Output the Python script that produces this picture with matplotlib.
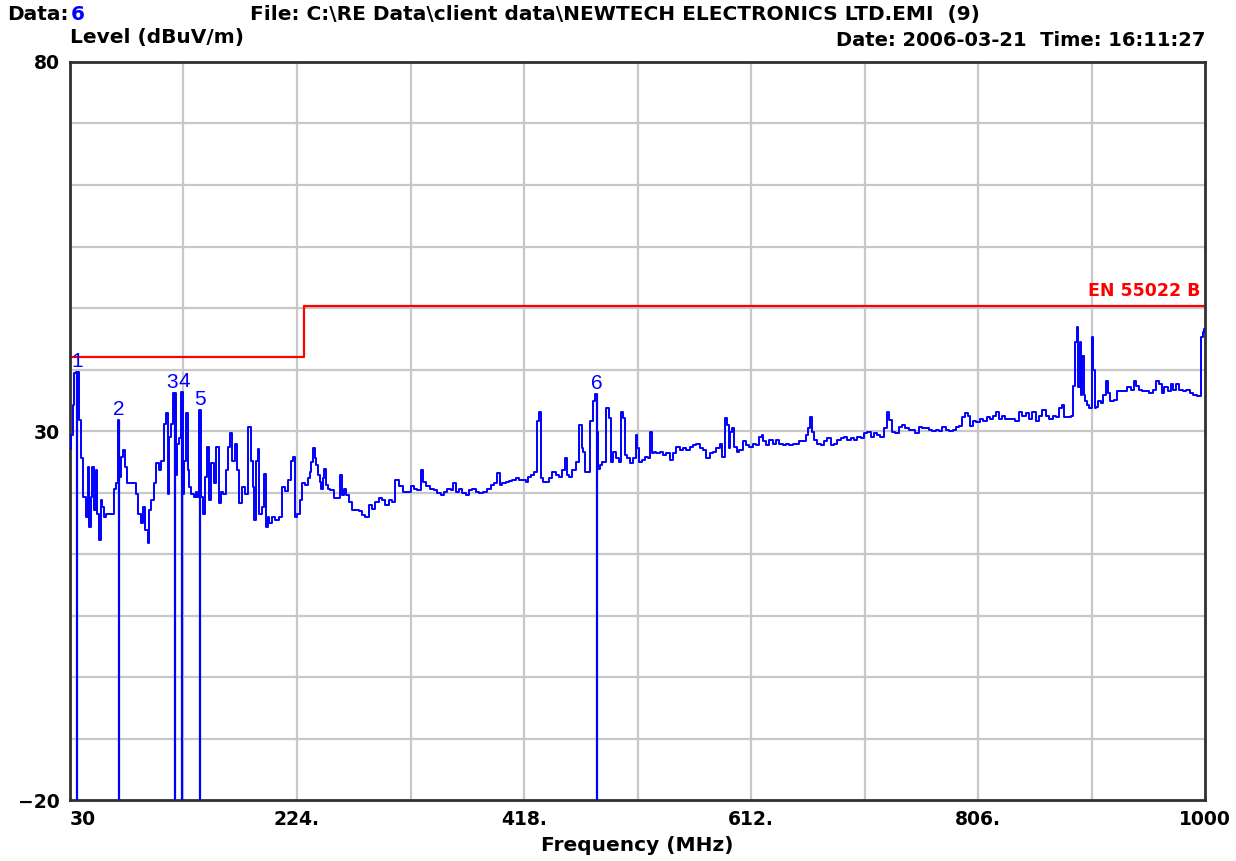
import numpy as np
import matplotlib
matplotlib.use("Agg")
import matplotlib.pyplot as plt

plt.rcParams['font.family'] = ['DejaVu Sans']

# limit line EN 55022 B (3 m)
limit_freq = [30, 230, 230, 1000]
limit_level = [40, 40, 47, 47]

freq = [
    30.0, 31.5, 33.0, 34.3, 36.0, 38.6, 40.0, 42.8, 44.3, 45.7,
    47.1, 48.5, 50.0, 51.4, 52.8, 54.2, 55.7, 57.1, 58.5, 60.0,
    61.4, 64.2, 67.1, 68.5, 70.0, 71.5, 72.5, 74.2, 76.2, 77.9,
    79.9, 82.8, 85.6, 87.0, 89.9, 91.3, 93.3, 95.6, 97.0, 98.5,
    100.8, 102.7, 104.7, 107.0, 109.3, 111.3, 112.7, 114.2, 115.6, 117.0,
    119.5, 121.0, 122.7, 124.1, 126.0, 127.0, 128.4, 129.9, 131.3, 132.7,
    135.0, 137.0, 138.4, 139.5, 141.5, 142.7, 144.1, 146.4, 148.4, 149.8,
    152.1, 154.1, 156.1, 157.8, 159.8, 161.8, 164.1, 166.4, 167.8, 169.8,
    172.1, 174.1, 175.5, 178.4, 181.2, 183.5, 185.5, 186.9, 188.3, 189.8,
    191.2, 192.6, 194.9, 196.9, 198.3, 199.8, 201.2, 204.0, 206.9, 209.7,
    212.6, 215.4, 217.7, 219.7, 221.1, 223.4, 225.4, 226.9, 229.7,
    232.6, 234.0, 235.4, 236.8, 238.3, 239.7, 241.1, 242.5, 244.0, 245.4,
    246.8, 248.2, 249.7, 251.1, 254.0, 256.8, 259.7, 261.9, 263.1, 265.4,
    266.8, 269.6, 272.5, 275.4, 278.2, 281.1, 283.9, 286.8, 289.6, 292.5,
    295.3, 298.2, 301.0, 303.9, 306.7, 309.6, 312.4, 316.7, 319.6, 322.4,
    325.3, 328.1, 331.0, 332.4, 335.3, 339.5, 342.4, 345.3, 348.1, 351.0,
    353.8, 356.7, 358.1, 361.0, 363.8, 366.6, 369.5, 372.4, 375.2, 378.1,
    380.9, 385.2, 388.0, 390.9, 393.8, 396.6, 398.0, 400.9, 403.7, 406.6,
    409.4, 412.3, 415.1, 418.0, 420.9, 422.3, 425.1, 428.0, 429.4, 431.4,
    433.1, 435.1, 438.0, 440.8, 443.7, 446.5, 449.4, 452.2, 453.7, 455.1,
    458.0, 460.8, 463.7, 466.5, 468.0, 469.4, 470.8, 473.6, 475.9, 477.6,
    480.0, 480.8, 482.2, 483.6, 486.5, 489.3, 491.3, 493.0, 495.0, 497.9,
    500.0, 502.2, 503.4, 505.1, 507.1, 509.9, 512.7, 514.1, 515.6, 517.6,
    519.8, 522.7, 524.9, 526.3, 527.8, 529.7, 532.6, 535.4, 538.3, 541.1,
    543.9, 546.8, 549.6, 552.4, 555.3, 558.1, 560.9, 563.8, 566.6, 569.5,
    572.3, 575.1, 578.0, 580.8, 583.6, 586.5, 588.5, 590.7, 592.1, 593.6,
    595.0, 597.0, 598.7, 600.6, 603.5, 606.3, 609.2, 612.0, 614.8, 617.7,
    620.5, 621.9, 623.3, 626.2, 629.0, 631.8, 634.7, 637.5, 640.4, 643.2,
    646.0, 648.9, 651.7, 654.5, 657.4, 660.2, 661.6, 663.0, 664.5, 667.3,
    670.1, 673.0, 675.8, 678.6, 681.5, 684.3, 687.1, 690.0, 692.8, 695.7,
    698.5, 701.3, 704.2, 707.0, 709.8, 712.7, 715.5, 718.3, 721.2, 724.0,
    726.9, 729.1, 731.1, 733.9, 736.8, 739.6, 742.4, 745.3, 748.1, 751.0,
    753.8, 756.6, 759.5, 762.3, 765.5, 768.4, 771.2, 774.1, 777.0, 779.9,
    782.8, 785.7, 788.6, 791.5, 793.0, 795.9, 798.8, 800.2, 803.1, 806.0,
    808.9, 811.8, 814.7, 817.6, 820.5, 822.8, 824.8, 827.7, 830.6, 833.5,
    836.4, 839.3, 842.2, 845.1, 848.0, 850.9, 853.8, 856.7, 859.6, 862.5,
    865.4, 868.3, 871.2, 874.1, 877.0, 878.4, 881.3, 884.2, 886.5, 887.7,
    889.4, 891.1, 892.3, 893.5, 894.6, 895.8, 896.9, 898.1, 900.1, 902.1,
    903.9, 905.0, 906.2, 907.9, 909.7, 911.7, 914.6, 916.0, 917.5, 920.4,
    923.3, 926.2, 929.1, 932.0, 934.9, 937.8, 940.1, 942.1, 945.0, 947.9,
    950.8, 953.7, 956.6, 959.5, 961.8, 963.8, 966.7, 969.6, 971.7, 974.0,
    976.3, 979.2, 982.7, 985.5, 988.4, 991.3, 994.2, 996.6, 997.1, 998.6,
    1000.0,
]
level = [
    27.6, 29.4, 33.5, 37.8, 38.0, 31.5, 26.3, 21.1, 18.4, 25.1,
    17.0, 21.1, 25.1, 19.3, 24.7, 18.8, 15.2, 20.6, 19.7, 18.4,
    18.8, 18.8, 18.8, 22.2, 23.0, 31.5, 23.8, 26.5, 27.4, 25.1,
    22.9, 22.9, 22.9, 21.5, 18.8, 17.5, 19.7, 16.6, 14.8, 19.3,
    20.6, 22.9, 25.6, 24.7, 26.0, 31.0, 32.4, 21.5, 29.2, 31.0,
    35.1, 24.0, 28.3, 29.0, 35.3, 21.5, 26.0, 32.4, 24.7, 22.4,
    21.5, 21.1, 21.7, 21.0, 32.8, 21.1, 18.8, 23.8, 27.9, 20.6,
    25.6, 22.9, 27.9, 20.2, 21.7, 21.5, 24.7, 27.9, 29.7, 26.0,
    28.3, 24.7, 20.2, 22.4, 21.5, 30.6, 26.0, 22.4, 17.9, 26.0,
    27.6, 18.8, 19.7, 24.2, 17.0, 18.4, 17.5, 18.4, 17.9, 18.4,
    22.4, 21.9, 23.3, 26.0, 26.5, 18.4, 18.8, 20.6, 22.9,
    22.7, 23.6, 24.5, 25.8, 27.7, 26.3, 25.4, 24.0, 23.1, 22.2,
    23.6, 24.9, 22.7, 22.2, 22.0, 20.9, 20.9, 24.0, 21.3, 22.2,
    21.3, 20.4, 19.3, 19.3, 19.1, 18.6, 18.4, 20.0, 19.5, 20.4,
    20.9, 20.6, 20.0, 20.6, 20.4, 23.4, 22.5, 21.8, 21.8, 22.5,
    22.2, 22.0, 24.7, 23.1, 22.5, 22.2, 22.0, 21.6, 21.3, 21.8,
    22.2, 22.0, 22.9, 21.8, 22.2, 21.6, 21.3, 22.0, 22.2, 21.8,
    21.6, 21.8, 22.2, 22.7, 22.9, 24.3, 22.7, 22.9, 23.1, 23.2,
    23.4, 23.6, 23.4, 23.4, 23.1, 23.8, 24.0, 24.5, 31.3, 32.6,
    23.6, 23.1, 23.1, 23.6, 24.5, 24.0, 23.8, 24.7, 26.3, 24.0,
    23.8, 24.7, 25.8, 30.8, 27.7, 27.2, 24.5, 24.5, 31.3, 34.0,
    35.0, 29.9, 24.9, 25.4, 25.8, 33.1, 31.7, 25.8, 27.2, 26.3,
    25.8, 32.6, 31.7, 26.7, 26.3, 25.6, 26.3, 29.5, 27.7, 25.8,
    26.1, 26.5, 26.3, 29.9, 27.0, 27.2, 27.0, 27.2, 26.7, 27.0,
    26.1, 27.0, 27.9, 27.4, 27.7, 27.4, 27.9, 28.1, 28.3, 27.7,
    27.4, 26.3, 27.0, 27.2, 27.7, 28.3, 26.5, 31.7, 30.8, 27.7,
    29.9, 30.4, 27.9, 27.2, 27.4, 28.6, 28.1, 27.9, 28.3, 28.1,
    29.2, 29.5, 28.6, 28.1, 28.8, 28.3, 28.8, 28.3, 28.1, 28.3,
    28.1, 28.3, 28.3, 28.6, 28.6, 29.5, 30.4, 31.9, 29.9, 28.8,
    28.3, 28.1, 28.6, 29.0, 28.1, 28.3, 28.8, 29.0, 29.2, 28.8,
    29.0, 28.8, 29.2, 29.0, 29.7, 29.9, 29.2, 29.7, 29.5, 29.2,
    30.4, 32.6, 31.5, 29.9, 29.7, 30.6, 30.8, 30.4, 30.1, 30.1,
    29.7, 30.6, 30.4, 30.4, 30.1, 30.0, 30.2, 30.0, 30.5, 30.2,
    30.0, 30.1, 30.5, 30.7, 31.9, 32.4, 32.1, 30.7, 31.4, 31.2,
    31.6, 31.4, 31.9, 31.6, 32.1, 32.6, 31.6, 32.1, 31.6, 31.6,
    31.6, 31.4, 32.6, 32.1, 32.4, 31.6, 32.6, 31.4, 32.1, 32.8,
    32.1, 31.6, 32.1, 31.9, 33.1, 33.5, 31.9, 31.9, 32.1, 36.1,
    42.0, 44.1, 35.9, 42.0, 34.9, 40.1, 34.9, 34.0, 33.5, 33.1,
    42.7, 38.2, 33.1, 33.3, 34.0, 33.8, 34.9, 36.8, 35.2, 34.0,
    34.2, 35.4, 35.4, 35.4, 35.9, 35.6, 36.8, 36.1, 35.6, 35.4,
    35.4, 35.2, 35.6, 36.8, 36.4, 35.2, 35.9, 35.4, 36.4, 35.6,
    36.4, 35.6, 35.4, 35.6, 35.2, 34.9, 34.7, 34.7, 42.7, 43.4,
    43.8,
]

# peak markers
marker_freq = [36.0, 71.5, 119.5, 126.0, 141.5, 480.0]
marker_level = [38.0, 31.5, 35.1, 35.3, 32.8, 35.0]
marker_label = ['1', '2', '3', '4', '5', '6']

x_ticks = [30, 224, 418, 612, 806, 1000]
x_tick_labels = ['30', '224.', '418.', '612.', '806.', '1000']
y_ticks = [-20, 30, 80]

blue = '#0000ff'
red = '#ff0000'
bold = dict(fontsize=14.5, fontweight='bold', family='DejaVu Sans')

fig = plt.figure(figsize=(12.36, 8.61), dpi=100)
ax = fig.add_axes([0.0566, 0.0708, 0.9184, 0.8572])

ax.set_xlim(30, 1000)
ax.set_ylim(-20, 80)

# grid: 10 divisions in x, 12 in y
for g in np.arange(30, 1000, 97)[1:]:
    ax.axvline(g, color='#c8c8c8', lw=1.6, zorder=0)
for g in np.linspace(-20, 80, 13)[1:-1]:
    ax.axhline(g, color='#c8c8c8', lw=1.6, zorder=0)

ax.plot(limit_freq, limit_level, color=red, lw=1.6, zorder=2)
ax.plot(freq, level, color=blue, lw=1.4, drawstyle='steps-mid', zorder=3)
ax.vlines(marker_freq, -20, marker_level, color=blue, lw=1.6, zorder=3)
for f, l, t in zip(marker_freq, marker_level, marker_label):
    ha, dx = 'center', 0
    if t == '3':
        ha, dx = 'right', 2
    elif t == '4':
        ha, dx = 'left', -3
    ax.annotate(t, (f, l), xytext=(dx, 1), textcoords='offset points',
                ha=ha, va='bottom', color=blue, fontsize=15,
                family='Liberation Sans', zorder=4)

ax.text(996, 47.7, 'EN 55022 B', color=red, fontsize=12.5, fontweight='bold',
        ha='right', va='bottom')

ax.set_xticks(x_ticks)
ax.set_xticklabels(x_tick_labels)
ax.set_yticks(y_ticks)
ax.tick_params(length=0, labelsize=13.5, pad=7)
for lab in ax.get_xticklabels() + ax.get_yticklabels():
    lab.set_fontweight('bold')
ax.get_xticklabels()[0].set_horizontalalignment('left')
for s in ax.spines.values():
    s.set_linewidth(2)
    s.set_color('#303030')

ax.set_xlabel('Frequency (MHz)', labelpad=5, **bold)

fig.text(0.006, 0.983, 'Data:', va='center', **bold)
fig.text(0.057, 0.983, '6', va='center', color=blue, **bold)
fig.text(0.202, 0.983, 'File: C:\\RE Data\\client data\\NEWTECH ELECTRONICS LTD.EMI  (9)',
         va='center', **bold)
fig.text(0.057, 0.957, 'Level (dBuV/m)', va='center', **bold)
fig.text(0.975, 0.953, 'Date: 2006-03-21  Time: 16:11:27', va='center', ha='right',
         fontsize=14, fontweight='bold', family='DejaVu Sans')

fig.savefig('out.png', dpi=100)
